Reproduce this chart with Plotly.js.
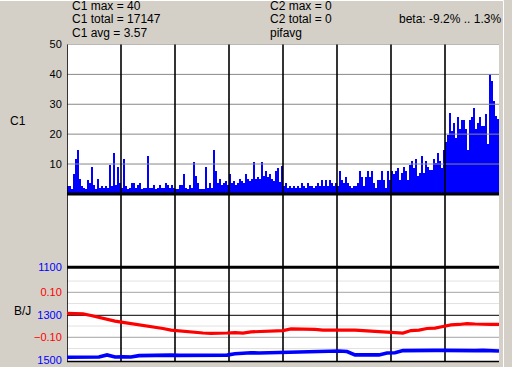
<!DOCTYPE html>
<html>
<head>
<meta charset="utf-8">
<script src="https://cdn.plot.ly/plotly-3.0.1.min.js"></script>
<style>html,body{margin:0;padding:0;background:#d4d0c8;}#chart{width:512px;height:367px;}</style>
</head>
<body>
<div id="chart"></div>
<script>
// ---- data ----
const c1Values = [
  2.5, 2.5, 1.8, 6.8, 11.8, 14.8, 4.9, 2.5, 2, 1.5, 4.8, 3.7, 8.9, 2.9, 1.5, 4.9, 2, 2.5, 2, 2.5, 2, 9.8, 2.5, 13.8, 3, 8.9, 3.7,
  2, 11.8, 2.5, 1.5, 2, 3.7, 3.7, 2, 3, 3.7, 1.5, 2, 2, 12.8, 2, 2, 3, 1.5, 2, 3, 2, 2, 3.7, 2.9, 2, 2.9, 2,
  1.8, 1.8, 2.9, 2.9, 6.7, 2, 1.8, 2.9, 2, 10.7, 5.9, 3.7, 1.8, 1.8, 1.8, 8.9, 2, 3.7, 2, 14.8, 7.8, 3.7, 4.9, 2.9, 3.7, 4.4, 2.9,
  6.7, 3.7, 4.4, 2.9, 3.7, 4.9, 4.4, 3.7, 6.7, 4.9, 4.4, 4.9, 10.7, 4.9, 5.5, 4.9, 10.7, 5.9, 7.8, 5.5, 6.7, 4.9, 4.4, 7.6, 8.7, 4, 9.3,
  2.5, 3.7, 2, 2.8, 2, 2.8, 2, 2.8, 2, 3.7, 2.8, 2, 3.7, 2.8, 2.8, 2, 2.8, 3.7, 2.8, 4.8, 2.8, 4.8, 2.8, 4.8, 3.7, 2.8, 3.7,
  2.8, 7.8, 4.8, 3.7, 5.7, 3.7, 2.8, 2, 2.8, 2.8, 3.7, 7.8, 5.7, 2.8, 5.7, 7.8, 5.7, 7.8, 3.7, 2, 4.8, 4.8, 7.8, 4.8, 2, 7.8, 4.8,
  7.8, 6.8, 7.8, 8.7, 4.8, 7, 8.9, 7.8, 4.8, 9.8, 10.9, 8.7, 11.7, 5.9, 7, 12.8, 7, 10.9, 8.9, 7.9, 7.9, 11.7, 10.3, 13.7, 10.9, 8.7, 14.8,
  17.5, 19.8, 27, 20.9, 23.7, 18.7, 25.9, 21.7, 24.8, 24.8, 21.7, 14.8, 24.8, 25.9, 28.7, 21.7, 23.7, 25.9, 22.8, 22.8, 26.8, 16.8, 40, 37.8, 31, 26, 25
];
const c1Positions = c1Values.map((v, i) => i + 0.5);

// lower panel: one point every 4 x-units
const lineX = [0,4,8,12,16,20,24,28,32,36,40,44,48,52,56,60,64,68,72,76,80,84,88,92,96,100,104,108,112,116,120,124,128,132,136,140,144,148,152,156,160,164,168,172,176,180,184,188,192,196,200,204,208,212,216];
const betaRed = [0.006,0.004,0.004,-0.003,-0.012,-0.019,-0.028,-0.034,-0.039,-0.043,-0.048,-0.054,-0.061,-0.068,-0.072,-0.074,-0.079,-0.081,-0.083,-0.083,-0.081,-0.079,-0.081,-0.076,-0.074,-0.072,-0.070,-0.070,-0.063,-0.063,-0.065,-0.065,-0.068,-0.068,-0.068,-0.065,-0.068,-0.070,-0.072,-0.074,-0.074,-0.079,-0.081,-0.070,-0.068,-0.061,-0.059,-0.052,-0.045,-0.043,-0.039,-0.041,-0.043,-0.043,-0.043];
const bjBlue = [1475,1474,1476,1475,1474,1465,1474,1473,1474,1468,1467,1468,1467,1466,1467,1467,1466,1467,1466,1467,1466,1460,1457,1456,1457,1456,1457,1456,1452,1451,1452,1451,1450,1449,1449,1451,1465,1465,1466,1465,1457,1456,1447,1446,1446,1445,1446,1446,1447,1447,1446,1447,1446,1448,1449];

const c1Ticks = [10, 20, 30, 40, 50];
const blueTicks = [1100, 1300];
const blueBottomTick = [1500];
const redTicks = [0.10, -0.10];
const redMinor = [0.15, 0.05, -0.05, -0.15];
const xDivisions = [0, 27, 54, 81, 108, 135, 162, 189];
const headerLeft = ["C1 max = 40", "C1 total = 17147", "C1 avg = 3.57"];
const headerMid = ["C2 max = 0", "C2 total = 0", "pifavg"];
const headerRight = "beta: -9.2% .. 1.3%";

// ---- geometry ----
const W = 512, H = 367;
const px = x => x / W;
const py = y => (H - y) / H;
const xL = px(67), xR = px(499);
const topDom = [py(193.9), py(44.5)];
const lowDom = [py(363.3), py(267.3)];

const traces = [
  {type: 'bar', x: c1Positions, y: c1Values, width: 1, xaxis: 'x', yaxis: 'y',
   marker: {color: '#0000ff', line: {width: 0}}, hoverinfo: 'skip'},
  {type: 'scatter', mode: 'lines', x: lineX, y: betaRed, xaxis: 'x2', yaxis: 'y3',
   line: {color: '#ff0000', width: 3.2}, hoverinfo: 'skip'},
  {type: 'scatter', mode: 'lines', x: lineX, y: bjBlue, xaxis: 'x2', yaxis: 'y2',
   line: {color: '#0000ff', width: 3.6}, hoverinfo: 'skip'},
  // empty carrier so the bottom "1500" label axis is rendered
  {type: 'scatter', mode: 'lines', x: [], y: [], xaxis: 'x2', yaxis: 'y4', hoverinfo: 'skip'}
];

const shapes = [];
shapes.push({type: 'rect', xref: 'paper', yref: 'paper', x0: xL, x1: xR, y0: py(361.7), y1: py(44.5),
  fillcolor: '#ffffff', line: {width: 0}, layer: 'below'});
redMinor.forEach(v => shapes.push({type: 'line', xref: 'paper', yref: 'y3', x0: xL, x1: xR, y0: v, y1: v,
  line: {color: '#e2e2e2', width: 1}, layer: 'below'}));
redTicks.forEach(v => shapes.push({type: 'line', xref: 'paper', yref: 'y3', x0: xL, x1: xR, y0: v, y1: v,
  line: {color: '#a4a4a4', width: 1}, layer: 'below'}));
shapes.push({type: 'line', xref: 'paper', yref: 'y2', x0: xL, x1: xR, y0: blueTicks[1], y1: blueTicks[1],
  line: {color: '#000000', width: 1}, layer: 'below'});
xDivisions.forEach(v => shapes.push({type: 'line', xref: 'x2', yref: 'paper', x0: v, x1: v, y0: py(361.7), y1: topDom[0],
  line: {color: '#000000', width: 1.6}, layer: 'below'}));
// thick line at 1100 (top edge of lower panel)
shapes.push({type: 'line', xref: 'paper', yref: 'paper', x0: xL, x1: xR, y0: lowDom[1], y1: lowDom[1],
  line: {color: '#000000', width: 3}, layer: 'above'});
shapes.push({type: 'line', xref: 'paper', yref: 'paper', x0: xL, x1: xR, y0: py(361.5), y1: py(361.5),
  line: {color: '#000000', width: 1.5}, layer: 'above'});
c1Ticks.forEach(v => shapes.push({type: 'line', xref: 'paper', yref: 'y', x0: xL, x1: xR, y0: v, y1: v,
  line: {color: '#888888', width: 1}, layer: 'above'}));
xDivisions.forEach(v => shapes.push({type: 'line', xref: 'x', yref: 'paper', x0: v, x1: v, y0: topDom[0], y1: topDom[1],
  line: {color: '#000000', width: 1.6}, layer: 'above'}));
// thick baseline at 0 of the C1 panel
shapes.push({type: 'line', xref: 'paper', yref: 'paper', x0: xL, x1: xR, y0: topDom[0], y1: topDom[0],
  line: {color: '#000000', width: 3}, layer: 'above'});
shapes.push({type: 'line', xref: 'paper', yref: 'paper', x0: 0, x1: px(503.5), y0: py(0.5), y1: py(0.5),
  line: {color: '#ffffff', width: 1}, layer: 'above'});
shapes.push({type: 'line', xref: 'paper', yref: 'paper', x0: px(503.5), x1: px(503.5), y0: 0, y1: py(0.5),
  line: {color: '#ffffff', width: 1}, layer: 'above'});

const font12 = {family: 'Liberation Sans, Arial, sans-serif', size: 12, color: '#000000'};
const annotations = [];
const rowY = [6.5, 19.5, 32.5];
headerLeft.forEach((t, i) => annotations.push({text: t, xref: 'paper', yref: 'paper', x: px(70), y: py(rowY[i]),
  xanchor: 'left', yanchor: 'middle', showarrow: false, font: font12}));
headerMid.forEach((t, i) => annotations.push({text: t, xref: 'paper', yref: 'paper', x: px(268), y: py(rowY[i]),
  xanchor: 'left', yanchor: 'middle', showarrow: false, font: font12}));
annotations.push({text: headerRight, xref: 'paper', yref: 'paper', x: px(503), y: py(rowY[1]),
  xanchor: 'right', yanchor: 'middle', showarrow: false, font: font12});
annotations.push({text: 'C1', xref: 'paper', yref: 'paper', x: px(18), y: py(121),
  xanchor: 'center', yanchor: 'middle', showarrow: false, font: font12});
annotations.push({text: 'B/J', xref: 'paper', yref: 'paper', x: px(22), y: py(311),
  xanchor: 'center', yanchor: 'middle', showarrow: false, font: font12});

const tickFont = c => ({family: 'Liberation Sans, Arial, sans-serif', size: 11, color: c});
const hiddenX = {range: [0, 216], domain: [xL, xR], showgrid: false, zeroline: false, showline: false,
  showticklabels: false, ticks: '', fixedrange: true};
const yCommon = {showgrid: false, zeroline: false, showline: false, ticks: 'outside', ticklen: 2,
  tickcolor: 'rgba(0,0,0,0)', fixedrange: true, ticklabeloverflow: 'allow'};

const layout = {
  width: W, height: H, autosize: false,
  margin: {l: 0, r: 0, t: 0, b: 0, pad: 0},
  paper_bgcolor: '#d4d0c8', plot_bgcolor: 'rgba(0,0,0,0)',
  showlegend: false, bargap: 0,
  xaxis: Object.assign({anchor: 'y'}, hiddenX),
  xaxis2: Object.assign({anchor: 'y2'}, hiddenX),
  yaxis: Object.assign({domain: topDom, range: [0, 50], tickvals: c1Ticks, ticktext: c1Ticks.map(String),
    tickfont: tickFont('#000000'), anchor: 'x'}, yCommon),
  yaxis2: Object.assign({domain: lowDom, range: [1500, 1100], tickvals: blueTicks, ticktext: blueTicks.map(String),
    tickfont: tickFont('#0000ff'), anchor: 'x2'}, yCommon),
  yaxis3: Object.assign({domain: lowDom, range: [-0.2156, 0.2111], overlaying: 'y2', side: 'left', anchor: 'x2',
    tickvals: redTicks, tickformat: '.2f', tickfont: tickFont('#ff0000')}, yCommon),
  // label-only axis: bottom "1500" label sits just inside the panel as in the reference
  yaxis4: Object.assign({domain: lowDom, range: [1515, 1115], overlaying: 'y2', side: 'left', anchor: 'x2',
    tickvals: blueBottomTick, ticktext: blueBottomTick.map(String), tickfont: tickFont('#0000ff')}, yCommon),
  shapes: shapes,
  annotations: annotations
};

Plotly.newPlot('chart', traces, layout, {displayModeBar: false, staticPlot: true});
</script>
</body>
</html>
